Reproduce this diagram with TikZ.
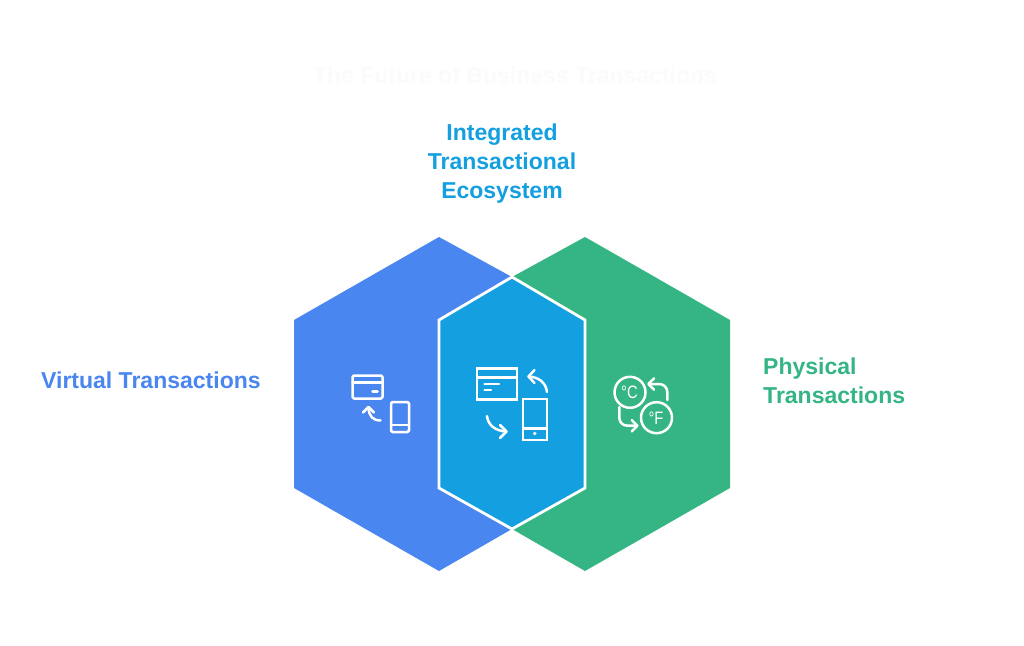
\documentclass[tikz,border=0pt]{standalone}
\usepackage{fontspec}
\setmainfont{Liberation Sans}
\definecolor{hexblue}{HTML}{4A86EF}
\definecolor{hexgreen}{HTML}{34B583}
\definecolor{hexteal}{HTML}{139FE0}
\definecolor{ghost}{HTML}{FBFBFB}
\tikzset{
  hexa/.style={line join=miter},
  icon/.style={draw=white,line width=2.5pt,line join=round,line cap=round},
  label/.style={font=\fontsize{23}{29}\selectfont\bfseries,anchor=base,inner sep=0pt},
  glyph/.style={text=white,font=\fontsize{18}{18}\selectfont,inner sep=0pt,transform shape,xscale=0.82}
}
\begin{document}
\begin{tikzpicture}[x=1pt,y=-1pt]
\useasboundingbox (0,0) rectangle (1024,645);
\fill[white] (0,0) rectangle (1024,645);
% hexagons
\fill[hexblue,hexa] (439,237)--(512,277)--(512,529)--(439,571)--(294,488)--(294,320)--cycle;
\fill[hexgreen,hexa] (585,237)--(730,320)--(730,488)--(585,571)--(512,529)--(512,277)--cycle;
\fill[hexteal,draw=white,line width=2.8pt,hexa] (512,277)--(585,320)--(585,488)--(512,529)--(439,488)--(439,320)--cycle;
% texts
\node[label,text=ghost,font=\fontsize{23}{23}\selectfont\bfseries] (title) at (515,83) {The Future of Business Transactions};
\node[label,text=hexteal] (t1) at (502,140) {Integrated};
\node[label,text=hexteal] (t2) at (502,169) {Transactional};
\node[label,text=hexteal] (t3) at (502,198) {Ecosystem};
\node[label,text=hexblue,anchor=base west] (v1) at (41,388) {Virtual Transactions};
\node[label,text=hexgreen,anchor=base west] (p1) at (763,374) {Physical};
\node[label,text=hexgreen,anchor=base west] (p2) at (763,403) {Transactions};
% blue icon
\draw[icon,rounded corners=1.5pt] (352.5,375.5) rectangle (382.5,398.5);
\draw[icon] (352.5,382.5)--(382.5,382.5);
\draw[icon] (372.5,391.5)--(377.5,391.5);
\draw[icon,rounded corners=1.5pt] (391,402) rectangle (409,432);
\draw[icon] (391,425)--(409,425);
\draw[icon] (380.5,420.5) .. controls (373,420.5) and (368.5,416) .. (368.5,407);
\draw[icon] (363,412.5)--(368.5,407)--(374,412.5);
% centre icon
\draw[icon,line join=miter,line cap=butt] (477,368.5) rectangle (517,399.5);
\draw[icon,line cap=butt] (477,377.5)--(517,377.5);
\draw[icon] (484.5,384)--(499,384);
\draw[icon] (484.5,390)--(491,390);
\draw[icon,line join=miter,line cap=butt] (523,399) rectangle (547,440);
\draw[icon,line cap=butt] (523,428.5)--(547,428.5);
\fill[white] (534.7,433.5) circle (1.8);
\draw[icon] (547,392) .. controls (546,383) and (539,377) .. (528.5,376.5);
\draw[icon] (534.5,370)--(528.5,376.5)--(534.5,383);
\draw[icon] (487,416) .. controls (488,425) and (495,431) .. (506.5,431.5);
\draw[icon] (500,425)--(506.5,431.5)--(500,438);
% green icon
\draw[icon] (630,392.3) circle (15.5);
\draw[icon] (656.5,417.7) circle (15.5);
\node[glyph] (gc) at (629.5,392.5) {°C};
\node[glyph] (gf) at (656,418.5) {°F};
\draw[icon,rounded corners=8pt] (667.3,400)--(667.3,384)--(648.5,384);
\draw[icon] (654,378.3)--(648.5,384)--(654,389.7);
\draw[icon,rounded corners=8pt] (619.3,407)--(619.3,425.7)--(637.3,425.7);
\draw[icon] (631.7,420)--(637.3,425.7)--(631.7,431.4);
\end{tikzpicture}
\end{document}
